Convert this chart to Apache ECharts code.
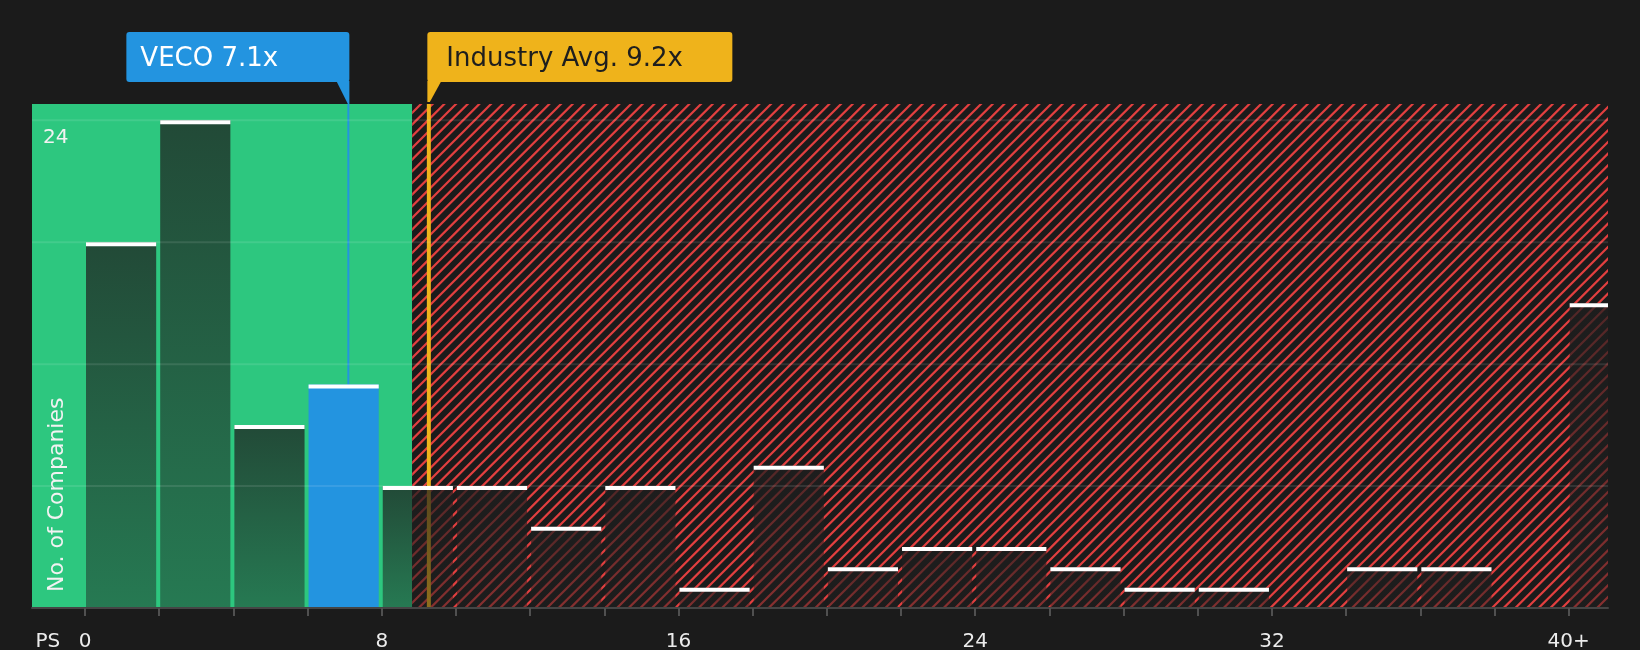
<!DOCTYPE html>
<html>
<head>
<meta charset="utf-8">
<script src="https://cdn.jsdelivr.net/npm/echarts@6/dist/echarts.min.js"></script>
<style>
html,body{margin:0;padding:0;background:#1b1b1b;}
#chart{width:1640px;height:650px;}
</style>
</head>
<body>
<div id="chart"></div>
<script>
// ---- data ----
const binStarts = [0, 2, 4, 6, 8, 10, 12, 14, 16, 18, 20, 22, 24, 26, 28, 30, 32, 34, 36, 38, 40];
const companyCounts = [18, 24, 9, 11, 6, 6, 4, 6, 1, 7, 2, 3, 3, 2, 1, 1, 0, 2, 2, 0, 15];
const binWidth = 2;
const companyValue = 7.1;
const companyLabel = 'VECO 7.1x';
const industryValue = 9.27;
const industryLabel = 'Industry Avg. 9.2x';
const fairZoneEnd = 8.82;
const xTickValues = [0, 2, 4, 6, 8, 10, 12, 14, 16, 18, 20, 22, 24, 26, 28, 30, 32, 34, 36, 38, 40];
const xLabelValues = [-1, 0, 8, 16, 24, 32, 40];
const xLabelTexts = ['PS', '0', '8', '16', '24', '32', '40+'];
const yGridValues = [6, 12, 18, 24];
const yLabelValues = [24];
const xMin = -1.429, xMax = 41.06, yMin = 0, yMax = 24.8;

const GREEN = '#2dc77f', RED = '#e23f3f', BLUE = '#2394e0', YELLOW = '#efb31b', BG = '#1b1b1b';

function makeHatch() {
  const s = 35, n = 3, step = s / n;
  const c = document.createElement('canvas');
  c.width = s; c.height = s;
  const ctx = c.getContext('2d');
  ctx.fillStyle = BG; ctx.fillRect(0, 0, s, s);
  ctx.strokeStyle = RED; ctx.lineWidth = 2.2;
  ctx.beginPath();
  for (let k = -n; k <= n; k++) {
    const c0 = k * step + s; // line x + y = c0
    ctx.moveTo(c0 - s - 2, s + 2); ctx.lineTo(c0 + 2, -2);
  }
  ctx.stroke();
  return c;
}
const hatchPattern = { image: makeHatch(), repeat: 'repeat' };

const chart = echarts.init(document.getElementById('chart'));

const option = {
  backgroundColor: BG,
  animation: false,
  textStyle: { fontFamily: 'DejaVu Sans' },
  grid: { left: 32, right: 32, top: 104, bottom: 42, containLabel: false, outerBoundsMode: 'none' },
  xAxis: {
    type: 'value', min: xMin, max: xMax, z: 10,
    splitLine: { show: false },
    axisLine: { show: true, onZero: false, lineStyle: { color: '#454545', width: 2 } },
    axisTick: { show: true, customValues: xTickValues, length: 8, lineStyle: { color: '#505050', width: 2 } },
    axisLabel: {
      customValues: xLabelValues, margin: 24, fontSize: 20, color: '#ececec',
      formatter: function (v) { const i = xLabelValues.indexOf(v); return i >= 0 ? xLabelTexts[i] : ''; }
    }
  },
  yAxis: {
    type: 'value', min: yMin, max: yMax, z: 10,
    splitLine: { show: false },
    axisLine: { show: false, onZero: false }, axisTick: { show: false },
    axisLabel: {
      customValues: yLabelValues, inside: true, margin: 11, fontSize: 20, color: '#f2f2f2',
      align: 'left', verticalAlign: 'top', padding: [8, 0, 0, 0]
    },
    name: 'No. of Companies', nameLocation: 'start', nameGap: -16, nameRotate: 90,
    nameMoveOverlap: false,
    nameTextStyle: { fontSize: 22, color: '#f2f2f2', align: 'left', verticalAlign: 'top', padding: [14, 0, 0, 0] }
  },
  series: [
    { // zones
      type: 'custom', z: 1, silent: true,
      data: [[xMin, fairZoneEnd, 0], [fairZoneEnd, xMax, 1]],
      renderItem: function (params, api) {
        const a = api.coord([api.value(0), yMax]);
        const b = api.coord([api.value(1), yMin]);
        return { type: 'rect', shape: { x: a[0], y: a[1], width: b[0] - a[0], height: b[1] - a[1] },
          style: { fill: api.value(2) === 0 ? GREEN : hatchPattern } };
      }
    },
    { // value lines
      type: 'custom', z: 2, silent: true,
      data: [[companyValue, 0], [industryValue, 1]],
      renderItem: function (params, api) {
        const a = api.coord([api.value(0), yMax]);
        const b = api.coord([api.value(0), yMin]);
        const isInd = api.value(1) === 1;
        return { type: 'line', shape: { x1: a[0], y1: a[1], x2: b[0], y2: b[1] },
          style: { stroke: isInd ? YELLOW : BLUE, lineWidth: isInd ? 4 : 2 } };
      }
    },
    { // bars
      type: 'custom', z: 3, silent: true, clip: true,
      data: binStarts.map((s, i) => [s, s + binWidth, companyCounts[i]]),
      renderItem: function (params, api) {
        const v = api.value(2);
        if (!v) return { type: 'group', children: [] };
        const s = api.value(0), e = api.value(1);
        const a = api.coord([s, v]);
        const b = api.coord([e, yMin]);
        const x = a[0] + 1, w = (b[0] - 3) - x, y = a[1], h = b[1] - a[1];
        const isCompany = companyValue >= s && companyValue < e;
        const fill = isCompany ? BLUE : new echarts.graphic.LinearGradient(0, 0, 0, 1, [
          { offset: 0, color: 'rgba(30,30,30,0.74)' },
          { offset: 1, color: 'rgba(30,30,30,0.46)' }
        ]);
        return { type: 'group', children: [
          { type: 'rect', shape: { x: x, y: y, width: w, height: h }, style: { fill: fill } },
          { type: 'rect', shape: { x: x, y: y, width: w, height: 4 }, style: { fill: '#ffffff' } }
        ] };
      }
    },
    { // gridlines
      type: 'custom', z: 4, silent: true,
      data: yGridValues.map(v => [v]),
      renderItem: function (params, api) {
        const a = api.coord([xMin, api.value(0)]);
        const b = api.coord([xMax, api.value(0)]);
        return { type: 'line', shape: { x1: a[0], y1: a[1], x2: b[0], y2: b[1] },
          style: { stroke: 'rgba(255,255,255,0.1)', lineWidth: 2 } };
      }
    },
    { // callouts
      type: 'custom', z: 5, silent: true, clip: false,
      data: [[companyValue, 0], [industryValue, 1]],
      renderItem: function (params, api) {
        const p = api.coord([api.value(0), yMax]);
        const isInd = api.value(1) === 1;
        const top = p[1] - 72, bottom = p[1] - 22, h = 50;
        let left, width, tri, textX, fill, txtColor, txt;
        if (!isInd) {
          width = 223; left = p[0] + 1 - width;
          tri = [[p[0] - 12, bottom - 1], [p[0] + 1, bottom - 1], [p[0] + 1, p[1]], [p[0] - 0.5, p[1]]];
          textX = left + 14; fill = BLUE; txtColor = '#ffffff'; txt = companyLabel;
        } else {
          width = 305; left = p[0] - 1.5;
          tri = [[left, bottom - 1], [left + 14, bottom - 1], [p[0] + 1, p[1] - 2], [left, p[1] - 2]];
          textX = left + 19; fill = YELLOW; txtColor = '#1e1e1e'; txt = industryLabel;
        }
        return { type: 'group', children: [
          { type: 'rect', shape: { x: left, y: top, width: width, height: h, r: 3 }, style: { fill: fill } },
          { type: 'polygon', shape: { points: tri }, style: { fill: fill } },
          { type: 'text', style: { x: textX, y: top + h / 2 + 2, text: txt, fill: txtColor,
              font: '26px "DejaVu Sans"', verticalAlign: 'middle', align: 'left' } }
        ] };
      }
    }
  ]
};
chart.setOption(option);
</script>
</body>
</html>
